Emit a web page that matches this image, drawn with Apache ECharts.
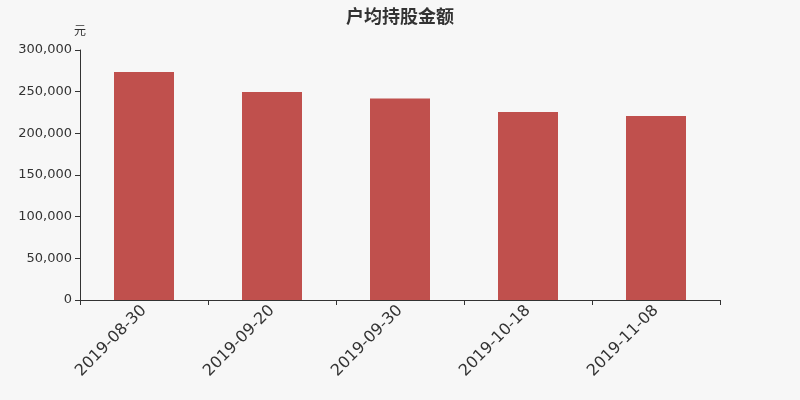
<!DOCTYPE html>
<html>
<head>
<meta charset="utf-8">
<script src="https://cdn.jsdelivr.net/npm/echarts@6/dist/echarts.min.js"></script>
<style>
  html, body { margin: 0; padding: 0; background: #f7f7f7; }
  #main { width: 800px; height: 400px; }
</style>
</head>
<body>
<div id="main"></div>
<script>
// 户均持股金额 data
var dates = ['2019-08-30', '2019-09-20', '2019-09-30', '2019-10-18', '2019-11-08'];
var amounts = [273600, 249600, 241700, 225600, 220800];

var chart = echarts.init(document.getElementById('main'));

var option = {
  backgroundColor: '#f7f7f7',
  textStyle: { fontFamily: 'DejaVu Sans' },
  title: {
    text: '户均持股金额',
    left: 'center',
    top: 2,
    textStyle: { fontSize: 18, fontWeight: 'bold', color: '#333', fontFamily: 'Noto Sans CJK SC' }
  },
  grid: { left: 80, right: 80, top: 50, bottom: 100 },
  xAxis: {
    type: 'category',
    data: dates,
    axisLine: { lineStyle: { color: '#333' } },
    axisTick: { show: true },
    axisLabel: { rotate: 45, fontSize: 16, color: '#333', margin: 8, fontFamily: 'DejaVu Sans' }
  },
  yAxis: {
    type: 'value',
    name: '元',
    nameGap: 14,
    nameTextStyle: { color: '#333', fontSize: 12, align: 'center', fontFamily: 'Noto Sans CJK SC' },
    min: 0,
    max: 300000,
    interval: 50000,
    axisLine: { show: true, lineStyle: { color: '#333' } },
    axisTick: { show: true },
    splitLine: { show: false },
    axisLabel: {
      color: '#333',
      fontSize: 13,
      fontFamily: 'DejaVu Sans',
      formatter: function (v) { return v.toLocaleString('en-US'); }
    }
  },
  series: [{
    type: 'bar',
    data: amounts,
    barWidth: 60,
    itemStyle: { color: '#c0504d' }
  }]
};

chart.setOption(option);
</script>
</body>
</html>
